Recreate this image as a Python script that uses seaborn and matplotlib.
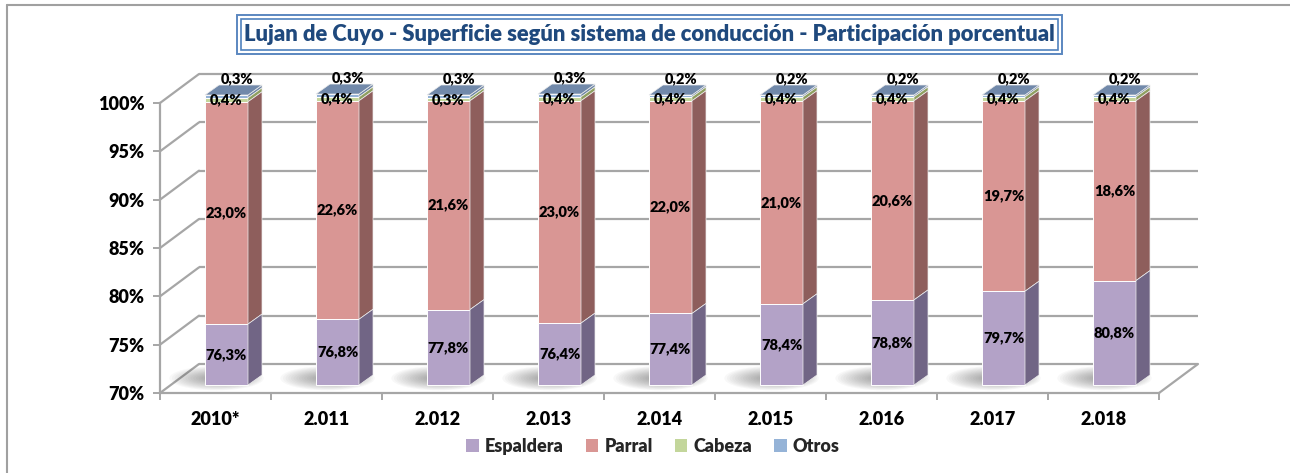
import numpy as np
import pandas as pd
import matplotlib
matplotlib.use("Agg")
import matplotlib.pyplot as plt
import seaborn as sns
from matplotlib.patches import Polygon, Rectangle, Ellipse
from matplotlib.lines import Line2D

# ---------------- data ----------------
years = ["2010*", "2.011", "2.012", "2.013", "2.014", "2.015", "2.016", "2.017", "2.018"]
espaldera = [76.3, 76.8, 77.8, 76.4, 77.4, 78.4, 78.8, 79.7, 80.8]
parral = [23.0, 22.6, 21.6, 23.0, 22.0, 21.0, 20.6, 19.7, 18.6]
cabeza = [0.4, 0.4, 0.3, 0.4, 0.4, 0.4, 0.4, 0.4, 0.4]
otros = [0.3, 0.3, 0.3, 0.3, 0.2, 0.2, 0.2, 0.2, 0.2]
series_names = ["Espaldera", "Parral", "Cabeza", "Otros"]
y_ticks = [70, 75, 80, 85, 90, 95, 100]
title = "Lujan de Cuyo - Superficie según sistema de conducción - Participación porcentual"

# ---------------- style ----------------
sns.set_theme(style="white")
plt.rcParams["font.family"] = ["Lato", "DejaVu Sans"]
plt.rcParams["font.weight"] = "bold"
FW = "heavy"

front_cols = ["#B3A2C7", "#D99694", "#C3D69B", "#95B3D7"]
side_cols = ["#716585", "#8E5E5C", "#8FA061", "#6F86A6"]
top_col = "#7189AA"
grid_col = "#A6A6A6"

W, H = 1290, 473
fig = plt.figure(figsize=(W / 100, H / 100), dpi=100)
fig.patch.set_facecolor("white")

ymin = 70.0
px_per_pct = 290 / 30.0
ax_top_px = 60
ax = fig.add_axes([160 / W, (H - 393) / H, 999 / W, (393 - ax_top_px) / H])
ax.set_facecolor("none")

# depth geometry (category units / percent units)
Dx, Dy = 39 / 111, 29 / px_per_pct           # full floor depth
ox, oy = 11 / 111, 8 / px_per_pct            # bar front face offset
bdx, bdy = 14 / 111, 10 / px_per_pct         # bar depth
bw = 43 / 111                                # bar width

# ---------------- stacked data ----------------
df = pd.DataFrame({"year": years, "Espaldera": espaldera, "Parral": parral,
                   "Cabeza": cabeza, "Otros": otros})
vals = df[series_names].to_numpy()
tops = np.cumsum(vals, axis=1)
bottoms = np.column_stack([np.full(len(years), ymin), tops[:, :-1]])
heights = tops - bottoms

# ---------------- walls & floor ----------------
for yv in y_ticks:
    ax.plot([-0.5 + Dx, len(years) - 0.5 + Dx], [yv + Dy, yv + Dy], color=grid_col,
            lw=1.6, zorder=0.2, clip_on=False, solid_capstyle="butt")
    ax.plot([-0.5, -0.5 + Dx], [yv, yv + Dy], color=grid_col, lw=1.6, zorder=0.2,
            clip_on=False)
ax.plot([len(years) - 0.5, len(years) - 0.5 + Dx], [ymin, ymin + Dy], color=grid_col,
        lw=1.6, zorder=0.2, clip_on=False)

# soft shadows on the floor
n_layers = 14
for i in range(len(years)):
    for k in range(n_layers):
        f = 1 - k / n_layers
        ax.add_patch(Ellipse((i + ox - 0.03 - 0.06 * f, ymin + oy + 0.7), 0.30 + 0.55 * f,
                             0.5 + 2.0 * f, facecolor="#303030", edgecolor="none",
                             alpha=0.03, zorder=0.5, clip_on=False))

# ---------------- bars (front faces via seaborn) ----------------
for s in range(len(series_names) - 1, -1, -1):
    n_before = len(ax.patches)
    sns.barplot(data=df, x="year", y=series_names[s], order=years, color=front_cols[s],
                width=bw, ax=ax, saturation=1, edgecolor="white", linewidth=0.7, zorder=3)
    new = ax.patches[n_before:]
    for i, p in enumerate(new):
        x0 = i - bw / 2 + ox
        p.set_x(x0)
        p.set_width(bw)
        p.set_y(bottoms[i, s] + oy)
        p.set_height(heights[i, s])
        p.set_clip_on(False)
        x1 = x0 + bw
        y0 = bottoms[i, s] + oy
        y1 = tops[i, s] + oy
        ax.add_patch(Polygon([(x1, y0), (x1 + bdx, y0 + bdy), (x1 + bdx, y1 + bdy), (x1, y1)],
                             closed=True, facecolor=side_cols[s], edgecolor="#EDEDED",
                             lw=0.5, zorder=3, clip_on=False))
        if s == len(series_names) - 1:
            ax.add_patch(Polygon([(x0, y1), (x1, y1), (x1 + bdx, y1 + bdy), (x0 + bdx, y1 + bdy)],
                                 closed=True, facecolor=top_col, edgecolor="#EDEDED",
                                 lw=0.5, zorder=3.5, clip_on=False))

# ---------------- data labels ----------------
def fmt(v):
    return f"{v:.1f}%".replace(".", ",")

lab_kw = dict(ha="center", va="center", fontsize=10.5, fontweight=FW, color="black",
              zorder=6, clip_on=False)
for i in range(len(years)):
    cx = i + ox
    ax.text(cx, (bottoms[i, 0] + tops[i, 0]) / 2 + oy, fmt(espaldera[i]), **lab_kw)
    ax.text(cx, (bottoms[i, 1] + tops[i, 1]) / 2 + oy, fmt(parral[i]), **lab_kw)
    ax.text(cx, (bottoms[i, 2] + tops[i, 2]) / 2 + oy, fmt(cabeza[i]), **lab_kw)
    ax.text(cx + bdx / 2 + 0.03, tops[i, 3] + oy + bdy / 2 + 1.15, fmt(otros[i]), **lab_kw)

# ---------------- axes ----------------
ax.set_xlim(-0.5, len(years) - 0.5)
ax.set_ylim(ymin, ymin + (393 - ax_top_px) / px_per_pct)
ax.set_xlabel("")
ax.set_ylabel("")
for sp in ["top", "right"]:
    ax.spines[sp].set_visible(False)
ax.spines["left"].set_bounds(70, 100)
ax.spines["bottom"].set_bounds(-0.5, len(years) - 0.5)
for sp in ["left", "bottom"]:
    ax.spines[sp].set_color(grid_col)
    ax.spines[sp].set_linewidth(1.6)
    ax.spines[sp].set_zorder(0.3)

ax.set_yticks(y_ticks)
ax.set_yticklabels([f"{t}%" for t in y_ticks])
ax.tick_params(axis="y", direction="out", length=5, width=1.4, color=grid_col, pad=6,
               labelsize=13, left=True)
ax.set_xticks(range(len(years)))
ax.set_xticklabels(years)
ax.set_xticks(np.arange(-0.5, len(years), 1.0), minor=True)
ax.tick_params(axis="x", which="major", length=0, pad=13, labelsize=13)
ax.tick_params(axis="x", which="minor", direction="out", length=5, width=1.4, color=grid_col,
               bottom=True)
for lbl in ax.get_xticklabels() + ax.get_yticklabels():
    lbl.set_fontweight(FW)
    lbl.set_color("black")
ax.grid(False)

# ---------------- legend ----------------
handles = [Rectangle((0, 0), 1, 1, facecolor=c, edgecolor="none") for c in front_cols]
fig.legend(handles, series_names, loc="center", bbox_to_anchor=(653 / W, 1 - 446 / H),
           ncol=4, frameon=False, handlelength=0.7, handleheight=0.7, handletextpad=0.35,
           columnspacing=1.2, prop={"weight": FW, "size": 13})

# ---------------- title box ----------------
bx0, bx1, by0, by1 = 237, 1062, 15, 54
fig.add_artist(Rectangle((bx0 / W, 1 - by1 / H), (bx1 - bx0) / W, (by1 - by0) / H,
                         transform=fig.transFigure, facecolor="white", edgecolor="#5B87C0",
                         lw=1.4, zorder=5))
fig.add_artist(Rectangle(((bx0 + 4) / W, 1 - (by1 - 4) / H), (bx1 - bx0 - 8) / W,
                         (by1 - by0 - 8) / H, transform=fig.transFigure, facecolor="none",
                         edgecolor="#4F81BD", lw=1.2, zorder=6))
fig.text((bx0 + bx1) / 2 / W, 1 - (by0 + by1) / 2 / H, title, ha="center", va="center",
         fontsize=15.8, fontweight=FW, color="#1F497D", zorder=7)

# ---------------- outer frame ----------------
fig.add_artist(Line2D([7 / W, 1], [1 - 5 / H, 1 - 5 / H], transform=fig.transFigure,
                      color="#A0A0A0", lw=1.5))
fig.add_artist(Line2D([7 / W, 7 / W], [0, 1 - 5 / H], transform=fig.transFigure,
                      color="#A0A0A0", lw=1.5))

fig.savefig("out.png", dpi=100, facecolor="white")
